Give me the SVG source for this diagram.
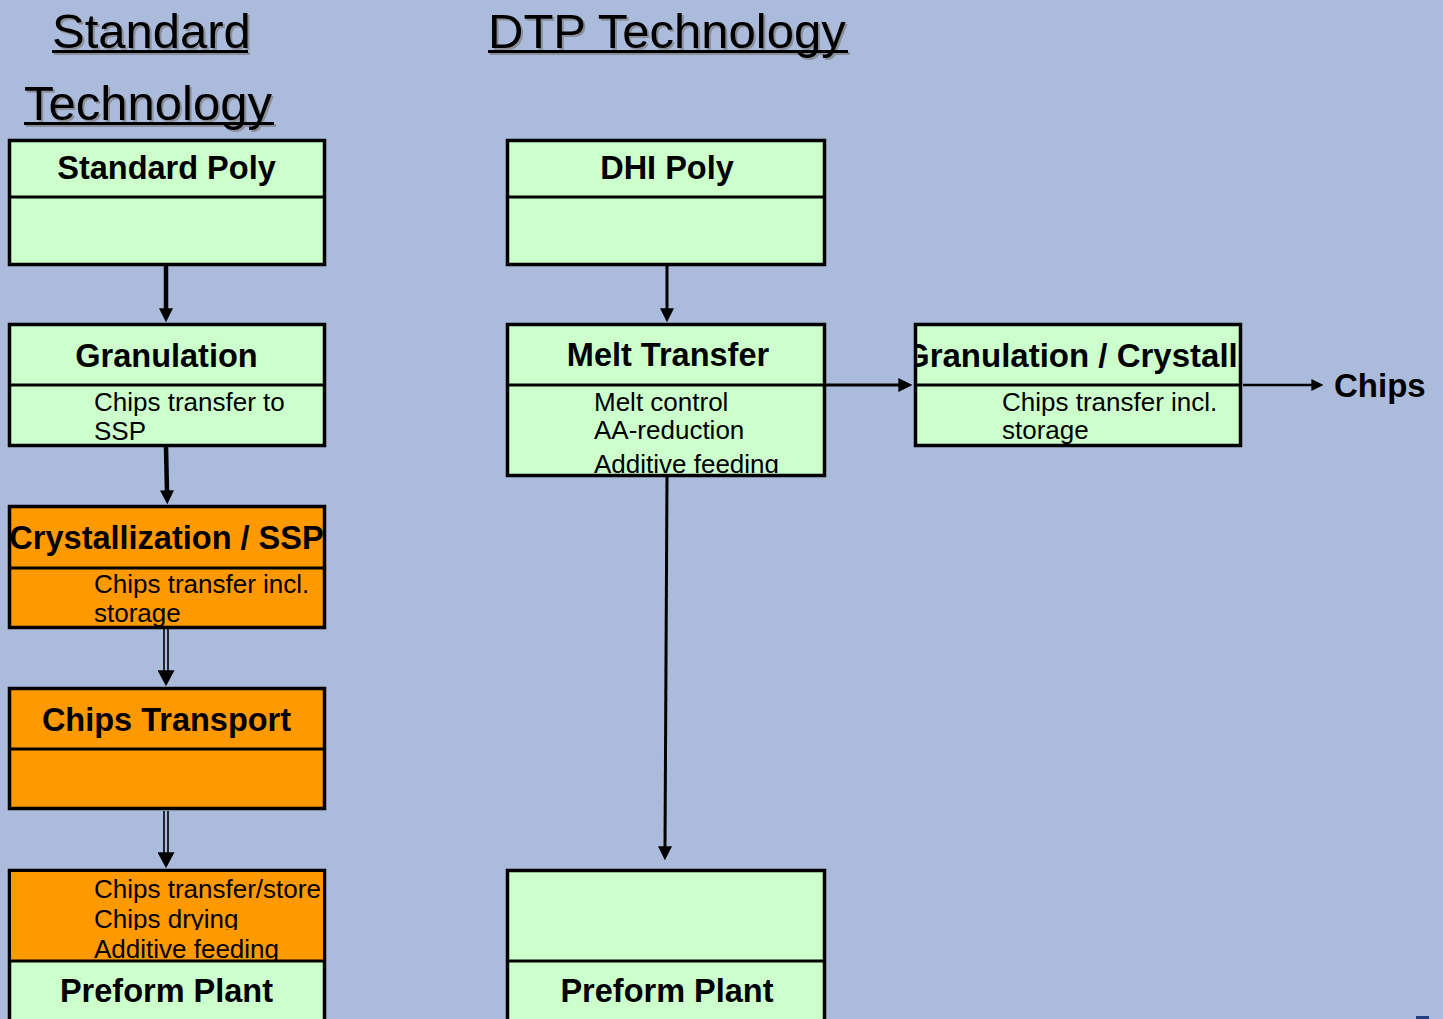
<svg xmlns="http://www.w3.org/2000/svg" width="1443" height="1019" viewBox="0 0 1443 1019">
<style>
.title{font-family:"Liberation Sans",Arial,sans-serif;font-size:49px;fill:#000}
.shadow{font-family:"Liberation Sans",Arial,sans-serif;font-size:49px;fill:#8a8f99}
.head{font-family:"Liberation Sans",Arial,sans-serif;font-size:32.5px;font-weight:bold;fill:#000;text-anchor:middle}
.body{font-family:"Liberation Sans",Arial,sans-serif;font-size:26px;fill:#000}
.box{stroke:#000;stroke-width:3.5}
.green{fill:#ccffcc}
.orange{fill:#ff9900}
.div{stroke:#000;stroke-width:3}
.conn{stroke:#000;fill:none}
</style>
<defs>
<marker id="ah14" viewBox="0 0 10 10" refX="0.5" refY="5" markerWidth="14" markerHeight="14" markerUnits="userSpaceOnUse" orient="auto"><path d="M0,0 L10,5 L0,10 z" fill="#000"/></marker>
<marker id="ah16" viewBox="0 0 10 10" refX="0.5" refY="5" markerWidth="16" markerHeight="17" markerUnits="userSpaceOnUse" orient="auto" preserveAspectRatio="none"><path d="M0,0 L10,5 L0,10 z" fill="#000"/></marker>
<marker id="ah12" viewBox="0 0 10 10" refX="0.5" refY="5" markerWidth="12" markerHeight="12" markerUnits="userSpaceOnUse" orient="auto"><path d="M0,0 L10,5 L0,10 z" fill="#000"/></marker>
<clipPath id="c-cs"><rect x="11" y="508" width="312" height="118"/></clipPath>
<clipPath id="c-mt"><rect x="509" y="386" width="314" height="87"/></clipPath>
<clipPath id="c-gc"><rect x="917" y="326" width="322" height="118"/></clipPath>
<clipPath id="c-pl1"><rect x="11" y="872" width="312" height="58"/></clipPath>
<clipPath id="c-pl2"><rect x="11" y="872" width="312" height="88"/></clipPath>
</defs>
<rect x="0" y="0" width="1443" height="1019" fill="#abbbdb"/>

<g id="titles">
<text class="shadow" x="54" y="50">Standard</text>
<rect x="54" y="52" width="196" height="3" fill="#8a8f99"/>
<text class="title" x="52" y="48">Standard</text>
<rect x="52" y="50" width="196" height="3" fill="#000"/>
<text class="shadow" x="26" y="122">Technology</text>
<rect x="26" y="124" width="250" height="3" fill="#8a8f99"/>
<text class="title" x="24" y="120">Technology</text>
<rect x="24" y="122" width="250" height="3" fill="#000"/>
<text class="shadow" x="490" y="50">DTP Technology</text>
<rect x="490" y="52" width="360" height="3" fill="#8a8f99"/>
<text class="title" x="488" y="48">DTP Technology</text>
<rect x="488" y="50" width="360" height="3" fill="#000"/>
</g>

<g id="connectors">
<line class="conn" x1="166" y1="266" x2="166" y2="309" stroke-width="4.5" marker-end="url(#ah14)"/>
<line class="conn" x1="166" y1="447" x2="167" y2="491" stroke-width="4.5" marker-end="url(#ah14)"/>
<line class="conn" x1="164" y1="629" x2="164" y2="672" stroke-width="1.6"/>
<line class="conn" x1="168" y1="629" x2="168" y2="672" stroke-width="1.6"/>
<line class="conn" x1="166" y1="629" x2="166" y2="671" stroke-width="0" marker-end="url(#ah16)"/>
<line class="conn" x1="164" y1="811" x2="164" y2="854" stroke-width="1.6"/>
<line class="conn" x1="168" y1="811" x2="168" y2="854" stroke-width="1.6"/>
<line class="conn" x1="166" y1="811" x2="166" y2="853" stroke-width="0" marker-end="url(#ah16)"/>
<line class="conn" x1="667" y1="266" x2="667" y2="309" stroke-width="3" marker-end="url(#ah14)"/>
<line class="conn" x1="667" y1="477" x2="665" y2="847" stroke-width="3" marker-end="url(#ah14)"/>
<line class="conn" x1="826" y1="385" x2="899" y2="385" stroke-width="3" marker-end="url(#ah14)"/>
<line class="conn" x1="1243" y1="385" x2="1312" y2="385" stroke-width="2.5" marker-end="url(#ah12)"/>
</g>

<g id="standard-poly">
<rect class="box green" x="9.5" y="140.5" width="315" height="124"/>
<line class="div" x1="9.5" y1="197" x2="324.5" y2="197"/>
<text class="head" x="166.5" y="179">Standard Poly</text>
</g>

<g id="granulation">
<rect class="box green" x="9.5" y="324.5" width="315" height="121"/>
<line class="div" x1="9.5" y1="385" x2="324.5" y2="385"/>
<text class="head" x="166.5" y="367">Granulation</text>
<text class="body" x="94" y="411">Chips transfer to</text>
<text class="body" x="94" y="440">SSP</text>
</g>

<g id="crystallization-ssp">
<rect class="box orange" x="9.5" y="506.5" width="315" height="121"/>
<line class="div" x1="9.5" y1="568" x2="324.5" y2="568"/>
<text class="head" x="166.5" y="549">Crystallization / SSP</text>
<g clip-path="url(#c-cs)">
<text class="body" x="94" y="593">Chips transfer incl.</text>
<text class="body" x="94" y="622">storage</text>
</g>
</g>

<g id="chips-transport">
<rect class="box orange" x="9.5" y="688.5" width="315" height="120"/>
<line class="div" x1="9.5" y1="749" x2="324.5" y2="749"/>
<text class="head" x="166.5" y="731">Chips Transport</text>
</g>

<g id="preform-plant-left">
<rect class="box green" x="9.5" y="870.5" width="315" height="170"/>
<rect class="orange" x="11" y="872" width="312" height="88"/>
<line class="div" x1="9.5" y1="961" x2="324.5" y2="961"/>
<text class="body" x="94" y="898">Chips transfer/store</text>
<g clip-path="url(#c-pl1)"><text class="body" x="94" y="928">Chips drying</text></g>
<g clip-path="url(#c-pl2)"><text class="body" x="94" y="958">Additive feeding</text></g>
<text class="head" x="166.5" y="1002">Preform Plant</text>
</g>

<g id="dhi-poly">
<rect class="box green" x="507.5" y="140.5" width="317" height="124"/>
<line class="div" x1="507.5" y1="197" x2="824.5" y2="197"/>
<text class="head" x="667" y="179">DHI Poly</text>
</g>

<g id="melt-transfer">
<rect class="box green" x="507.5" y="324.5" width="317" height="151"/>
<line class="div" x1="507.5" y1="385" x2="824.5" y2="385"/>
<text class="head" x="668" y="366">Melt Transfer</text>
<g clip-path="url(#c-mt)">
<text class="body" x="594" y="411">Melt control</text>
<text class="body" x="594" y="439">AA-reduction</text>
<text class="body" x="594" y="473">Additive feeding</text>
</g>
</g>

<g id="granulation-crystall">
<rect class="box green" x="915.5" y="324.5" width="325" height="121"/>
<line class="div" x1="915.5" y1="385" x2="1240.5" y2="385"/>
<g clip-path="url(#c-gc)">
<text class="head" x="904" y="367" style="text-anchor:start;font-size:33px">Granulation / Crystall</text>
<text class="body" x="1002" y="411">Chips transfer incl.</text>
<text class="body" x="1002" y="439">storage</text>
</g>
</g>

<g id="chips">
<text class="head" x="1334" y="397" style="text-anchor:start;font-size:33px">Chips</text>
</g>

<g id="preform-plant-right">
<rect class="box green" x="507.5" y="870.5" width="317" height="170"/>
<line class="div" x1="507.5" y1="961" x2="824.5" y2="961"/>
<text class="head" x="667" y="1002">Preform Plant</text>
</g>

<rect x="1416" y="1016" width="13" height="3" fill="#1f3f7f"/>
</svg>
